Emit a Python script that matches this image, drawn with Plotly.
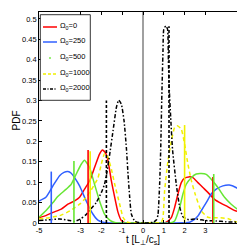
import plotly.graph_objects as go

# ---------------- data ----------------
x_red = [-5, -4.67, -4.33, -3.93, -3.61, -3.29, -3.05, -2.81, -2.57, -2.33, -2.09, -1.95, -1.8, -1.68,
         -1.52, -1.36, -1.2, -1.04, -0.88, -0.6, 0, 0.6, 1.0, 1.12, 1.36, 1.52, 1.68, 1.84, 2.0, 2.2,
         2.4, 2.64, 2.88, 3.12, 3.44, 3.76, 4.07, 4.39, 4.71, 5]
y_red = [0.013, 0.018, 0.026, 0.034, 0.046, 0.054, 0.063, 0.083, 0.103, 0.136, 0.169, 0.179, 0.172, 0.152,
         0.103, 0.063, 0.026, 0.006, 0.001, 0, 0, 0, 0.0, 0.002, 0.013, 0.038, 0.071, 0.099, 0.11, 0.113,
         0.111, 0.099, 0.087, 0.075, 0.058, 0.048, 0.04, 0.031, 0.026, 0.022]

x_blue = [-5, -4.67, -4.33, -4.01, -3.8, -3.61, -3.45, -3.29, -3.05, -2.73, -2.41, -2.17, -1.93, -1.6,
          0, 2.0, 2.24, 2.48, 2.64, 2.8, 3.04, 3.28, 3.52, 3.84, 4.15, 4.47, 4.79, 5]
y_blue = [0.054, 0.063, 0.091, 0.116, 0.124, 0.126, 0.122, 0.111, 0.091, 0.054, 0.022, 0.007, 0.002, 0,
          0, 0.0005, 0.002, 0.009, 0.017, 0.03, 0.05, 0.071, 0.083, 0.091, 0.093, 0.087, 0.075, 0.067]

x_green = [-5, -4.67, -4.33, -4.1, -3.69, -3.45, -3.21, -2.97, -2.81, -2.57, -2.33, -2.09, -1.85, -1.6,
           -1.4, -1.2, 0, 1.3, 1.52, 1.76, 1.92, 2.08, 2.32, 2.56, 2.8, 3.04, 3.28, 3.6, 3.92, 4.24,
           4.55, 4.87, 5]
y_green = [0.014, 0.03, 0.05, 0.065, 0.083, 0.095, 0.12, 0.144, 0.154, 0.136, 0.095, 0.054, 0.022, 0.007,
           0.002, 0, 0, 0, 0.005, 0.038, 0.071, 0.095, 0.111, 0.12, 0.121, 0.119, 0.107, 0.087, 0.063,
           0.046, 0.034, 0.029, 0.027]

x_yellow = [-5, -4.5, -4, -3.5, -3, -2.7, -2.5, -2.17, -2.0, -1.85, -1.72, -1.52, -1.36, -1.12, -0.96,
            -0.8, -0.6, 0, 0.6, 0.88, 0.96, 1.04, 1.2, 1.36, 1.52, 1.65, 1.84, 2.0, 2.16, 2.32, 2.5, 2.8,
            3.12, 3.6, 4.07, 4.4, 4.7, 5]
y_yellow = [0.01, 0.013, 0.018, 0.03, 0.048, 0.065, 0.08, 0.11, 0.145, 0.17, 0.165, 0.132, 0.095, 0.046,
            0.014, 0.003, 0, 0, 0, 0.002, 0.013, 0.079, 0.152, 0.2, 0.234, 0.238, 0.23, 0.193, 0.144,
            0.105, 0.072, 0.03, 0.014, 0.013, 0.011, 0.004, 0.001, 0]

x_black = [-5, -4.5, -4, -3.6, -3.3, -3, -2.75, -2.5, -2.25, -2, -1.85, -1.75, -1.6, -1.44, -1.28, -1.17,
           -1.04, -0.91, -0.8, -0.72, -0.64, -0.56, -0.4, -0.2, 0, 0.5, 0.65, 0.72, 0.8, 0.85, 0.9,
           0.96, 1.0, 1.1, 1.18, 1.22, 1.26, 1.33, 1.42, 1.6, 1.76, 1.92, 2.2, 2.5, 3.0, 3.5, 4.0,
           4.5, 5]
y_black = [0.006, 0.008, 0.01, 0.007, 0.004, 0.01, 0.02, 0.035, 0.05, 0.075, 0.095, 0.12, 0.169, 0.226,
           0.283, 0.301, 0.291, 0.25, 0.185, 0.12, 0.063, 0.022, 0.005, 0.001, 0, 0.002, 0.008, 0.02,
           0.095, 0.177, 0.3, 0.42, 0.475, 0.483, 0.475, 0.40, 0.33, 0.26, 0.18, 0.095, 0.04, 0.015,
           0.008, 0.01, 0.006, 0.005, 0.003, 0.002, 0.001]

# vertical marker lines: positions and heights
mark_x_red, mark_h_red = [-2.64, 3.36], [0.179, 0.113]
mark_x_blue, mark_h_blue = [-4.41, 4.87], [0.126, 0.091]
mark_x_green, mark_h_green = [-3.32, 3.40], [0.152, 0.12]
mark_x_yellow, mark_h_yellow = [-2.54, 2.0], [0.176, 0.24]
mark_x_black, mark_h_black = [-1.76, 1.25], [0.3, 0.482]

names = ["Ω<sub>0</sub>=0", "Ω<sub>0</sub>=250", "Ω<sub>0</sub>=500",
         "Ω<sub>0</sub>=1000", "Ω<sub>0</sub>=2000"]
x_ticks = [-5, -3, -2, -1, 0, 1, 2, 3, 5]
x_ticktext = ["-5", "-3", "-2", "-1", "0", "1", "2", "3", "5"]
y_ticks = [0, 0.05, 0.1, 0.15, 0.2, 0.25, 0.3, 0.35, 0.4, 0.45, 0.5]
y_ticktext = ["0", "0.05", "0.1", "0.15", "0.2", "0.25", "0.3", "0.35", "0.4", "0.45", "0.5"]

# ---------------- styling ----------------
RED, BLUE, GREEN, YELLOW, BLACK = "#ff0000", "#3060ff", "#66e633", "#f0f000", "#000000"
FONT = "Liberation Sans, Arial, sans-serif"

series = [
    (x_red, y_red, RED, "solid", mark_x_red, mark_h_red, "solid"),
    (x_blue, y_blue, BLUE, "solid", mark_x_blue, mark_h_blue, "solid"),
    (x_green, y_green, GREEN, "solid", mark_x_green, mark_h_green, "solid"),
    (x_yellow, y_yellow, YELLOW, "4px,3px", mark_x_yellow, mark_h_yellow, "solid"),
    (x_black, y_black, BLACK, "4px,2px,1.5px,2px", mark_x_black, mark_h_black, "3px,2px"),
]

fig = go.Figure()
for (xs, ys, col, dash, mx, mh, mdash), nm in zip(series, names):
    fig.add_trace(go.Scatter(x=xs, y=ys, mode="lines", name=nm,
                             line=dict(color=col, width=1.5, dash=dash, shape="spline", smoothing=0.5),
                             showlegend=False))
for (xs, ys, col, dash, mx, mh, mdash), nm in zip(series, names):
    for xv, hv in zip(mx, mh):
        fig.add_trace(go.Scatter(x=[xv, xv], y=[0, hv], mode="lines",
                                 line=dict(color=col, width=1.6, dash=mdash),
                                 showlegend=False, hoverinfo="skip"))

# pixel -> paper helpers (plot area: x 31..239, y 4..215)
L, R, T, B = 31, 239, 4, 215
def px(xp):
    return (xp - L) / (R - L)
def py(yp):
    return (B - yp) / (B - T)

shapes = [dict(type="rect", xref="paper", yref="paper", x0=px(32.3), x1=px(82.3),
               y0=py(92.3), y1=py(6.7), line=dict(color="black", width=0.8), fillcolor="white",
               layer="above")]
annotations = []
rows = [19, 34, 50, 66, 81]
leg_styles = [(RED, "solid"), (BLUE, "solid"), (GREEN, None), (YELLOW, "dash"), (BLACK, "dashdot")]
for (col, dsh), r, nm in zip(leg_styles, rows, names):
    if dsh is None:
        shapes.append(dict(type="circle", xref="paper", yref="paper", x0=px(41.3), x1=px(42.7),
                           y0=py(r + 0.7), y1=py(r - 0.7), line=dict(color=col, width=0.5),
                           fillcolor=col, layer="above"))
    else:
        d = {"solid": "solid", "dash": "3px,2px", "dashdot": "3px,1.5px,1px,1.5px"}[dsh]
        shapes.append(dict(type="line", xref="paper", yref="paper", x0=px(35), x1=px(49),
                           y0=py(r), y1=py(r), line=dict(color=col, width=1.5, dash=d), layer="above"))
    annotations.append(dict(text=nm, xref="paper", yref="paper", x=px(50), y=py(r - 1.5),
                            xanchor="left", yanchor="middle", showarrow=False,
                            font=dict(size=7.5, family=FONT, color="black")))

annotations.append(dict(text="t [L<sub>⊥</sub>/c<sub>s</sub>]", xref="paper", yref="paper",
                        x=px(135), y=py(232), xanchor="center", yanchor="middle", showarrow=False,
                        font=dict(size=10, family=FONT, color="black")))
annotations.append(dict(text="PDF", xref="paper", yref="paper", x=px(7.5), y=py(113),
                        xanchor="center", yanchor="middle", showarrow=False, textangle=-90,
                        font=dict(size=10, family=FONT, color="black")))

axis_common = dict(showline=True, linecolor="black", linewidth=0.8, mirror="ticks", ticks="inside",
                   ticklen=3, tickwidth=0.8, tickcolor="black", showgrid=False,
                   tickfont=dict(size=7.5, family=FONT, color="black"))

fig.update_layout(
    width=245, height=245,
    margin=dict(l=L, r=245 - R, t=T, b=245 - B),
    paper_bgcolor="white", plot_bgcolor="white",
    xaxis=dict(range=[-5, 5], tickvals=x_ticks, ticktext=x_ticktext, zeroline=True,
               zerolinecolor="#a0a0a0", zerolinewidth=1.5, **axis_common),
    yaxis=dict(range=[0, 0.517], tickvals=y_ticks, ticktext=y_ticktext, zeroline=False,
               **axis_common),
    shapes=shapes, annotations=annotations, showlegend=False,
)

fig.write_html("out.html")
